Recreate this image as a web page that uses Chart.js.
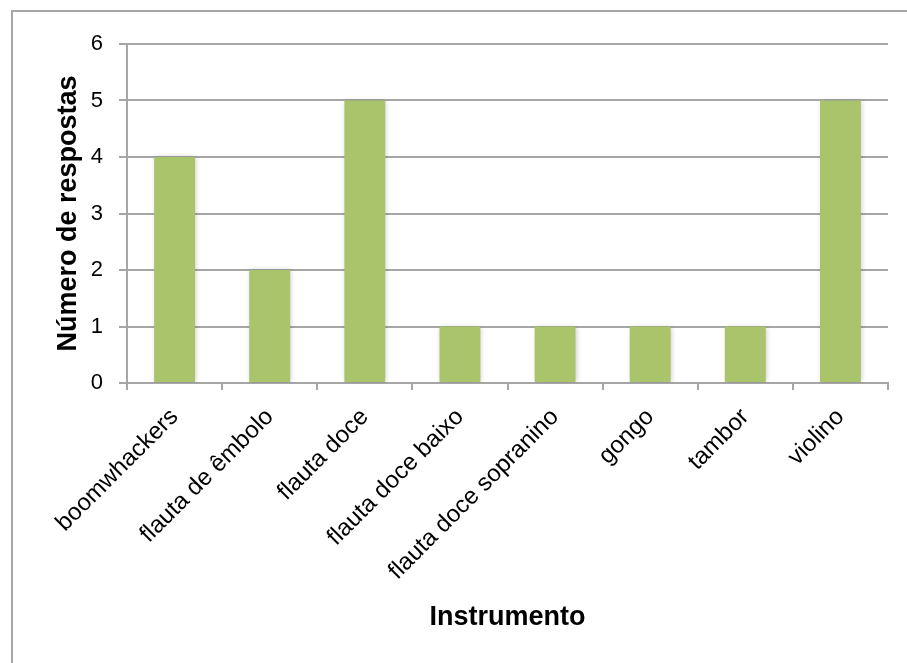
<!DOCTYPE html>
<html>
<head>
<meta charset="utf-8">
<script src="https://cdn.jsdelivr.net/npm/chart.js@4/dist/chart.umd.min.js"></script>
<style>
  html, body { margin: 0; padding: 0; background: #ffffff; }
  #wrap { width: 907px; height: 663px; }
</style>
</head>
<body>
<div id="wrap"><canvas id="chart" width="907" height="663"></canvas></div>
<script>
// Instruments and how many answers named each one
const categories = [
  'boomwhackers',
  'flauta de êmbolo',
  'flauta doce',
  'flauta doce baixo',
  'flauta doce sopranino',
  'gongo',
  'tambor',
  'violino'
];
const respostas = [4, 2, 5, 1, 1, 1, 1, 5];
const yTicks = [0, 1, 2, 3, 4, 5, 6];

const axisGray = '#A6A6A6';
const fontFamily = '"Liberation Sans", Arial, Helvetica, sans-serif';

// Frame around the chart object (left and top edges fall inside the page)
const framePlugin = {
  id: 'frame',
  beforeDraw(chart) {
    const ctx = chart.ctx;
    ctx.save();
    ctx.fillStyle = '#ffffff';
    ctx.fillRect(0, 0, chart.width, chart.height);
    ctx.strokeStyle = axisGray;
    ctx.lineWidth = 2;
    ctx.beginPath();
    ctx.moveTo(12, chart.height);
    ctx.lineTo(12, 11);
    ctx.lineTo(chart.width, 11);
    ctx.stroke();
    ctx.restore();
  }
};

// Soft shadow around the columns
const shadowPlugin = {
  id: 'barShadow',
  beforeDatasetsDraw(chart) {
    const ctx = chart.ctx;
    ctx.save();
    ctx.shadowColor = 'rgba(0,0,0,0.22)';
    ctx.shadowBlur = 5;
    ctx.shadowOffsetX = 1;
    ctx.shadowOffsetY = 0;
  },
  afterDatasetsDraw(chart) {
    chart.ctx.restore();
  }
};

new Chart(document.getElementById('chart'), {
  type: 'bar',
  data: {
    labels: categories,
    datasets: [{
      label: 'Número de respostas',
      data: respostas,
      backgroundColor: '#AAC46C',
      borderWidth: 0,
      barPercentage: 0.43,
      categoryPercentage: 1.0
    }]
  },
  options: {
    responsive: false,
    animation: false,
    layout: { padding: { top: 44, right: 19, left: 0, bottom: 0 } },
    plugins: {
      legend: { display: false },
      tooltip: { enabled: false }
    },
    scales: {
      x: {
        offset: true,
        grid: {
          offset: true,
          drawOnChartArea: false,
          drawTicks: true,
          tickLength: 7,
          color: axisGray,
          lineWidth: 2
        },
        border: { display: true, color: axisGray, width: 2 },
        ticks: {
          autoSkip: false,
          minRotation: 45,
          maxRotation: 45,
          padding: 13,
          labelOffset: 0,
          color: '#000000',
          font: { family: fontFamily, size: 24 }
        },
        title: {
          display: true,
          text: 'Instrumento',
          color: '#000000',
          font: { family: fontFamily, size: 27, weight: 'bold' },
          padding: { top: 0, bottom: 29 }
        },
        afterFit(scale) { scale.height = 280; }
      },
      y: {
        min: 0,
        max: 6,
        afterBuildTicks(scale) {
          scale.ticks = yTicks.map(v => ({ value: v }));
        },
        grid: {
          color: axisGray,
          lineWidth: 2,
          drawTicks: true,
          tickLength: 8
        },
        border: { display: true, color: axisGray, width: 2 },
        ticks: {
          padding: 16,
          color: '#000000',
          font: { family: fontFamily, size: 22 }
        },
        title: {
          display: true,
          text: 'Número de respostas',
          color: '#000000',
          font: { family: fontFamily, size: 27, weight: 'bold' },
          padding: { top: 52, bottom: 0 }
        },
        afterFit(scale) { scale.width = 127; }
      }
    }
  },
  plugins: [framePlugin, shadowPlugin]
});
</script>
</body>
</html>
